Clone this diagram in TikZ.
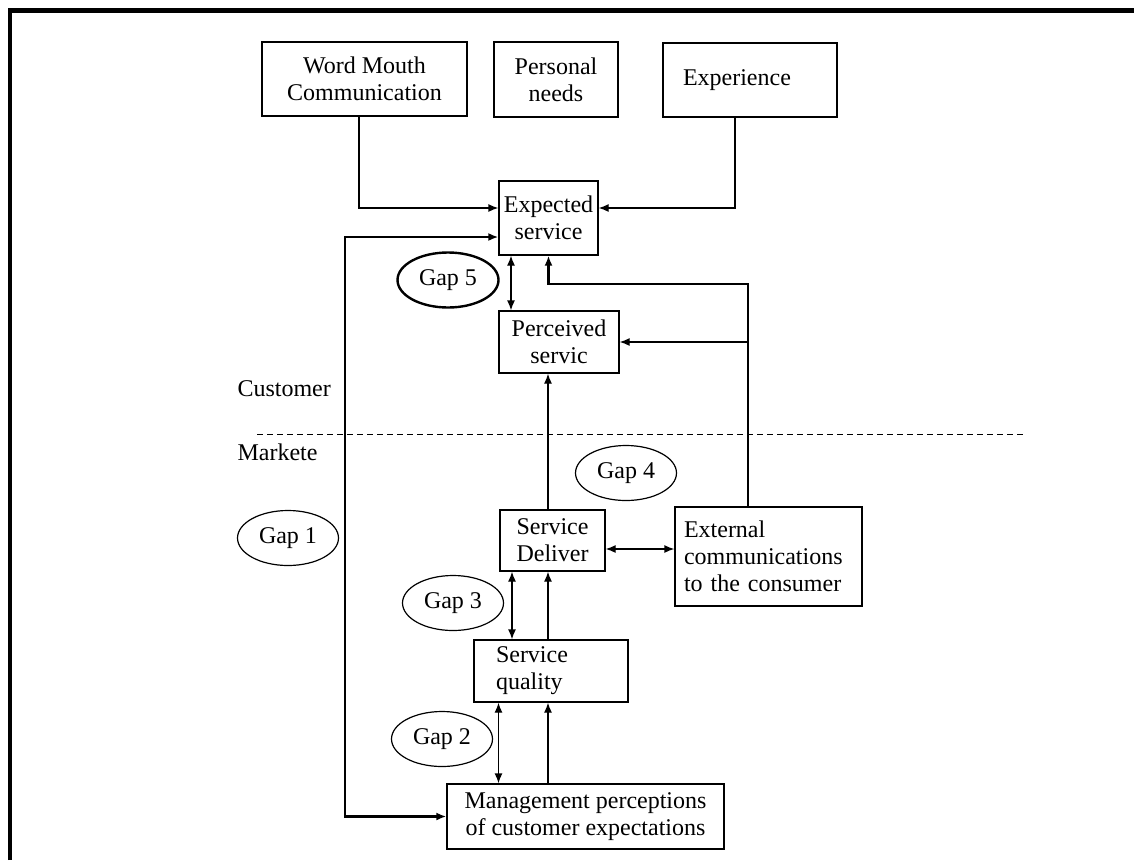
\documentclass[tikz,border=0pt]{standalone}
\usepackage{fontspec}
\setmainfont{Liberation Serif}
\usepackage{tikz}
\usetikzlibrary{arrows.meta,shapes.geometric}

\tikzset{
  every node/.style={font=\fontsize{24}{27}\selectfont},
  box/.style={draw=black,line width=1.3pt,inner sep=0pt,align=center},
  gap/.style={draw=black,line width=1.2pt,ellipse,inner sep=0pt,
    minimum width=101pt,minimum height=55pt},
  tip/.tip={Latex[length=10pt,width=8pt]},
  arr/.style={line width=1.3pt,-tip},
  dbl/.style={line width=1.3pt,tip-tip},
  heavy/.style={line width=2.8pt},
}

\begin{document}
\begin{tikzpicture}[x=1pt,y=-1pt]
\useasboundingbox (0,0) rectangle (1134,860);
% frame:
\path[draw=black,line width=4.5pt] (10,860) -- (10,10.5) -- (1134,10.5);
% boxes:
\node[box,minimum width=205pt,minimum height=74pt] (wom) at (364.5,79) {Word Mouth\\Communication};
\node[box,minimum width=124pt,minimum height=75pt] (pers) at (556,79.5) {Personal\\needs};
\node[box,minimum height=74pt,inner xsep=20pt,text width=134pt,align=left] (expr) at (750,80) {Experience};
\node[box,minimum width=99pt,minimum height=74pt] (expd) at (548.5,218) {Expected\\service};
\node[box,minimum width=120pt,minimum height=62pt] (perc) at (559,342) {Perceived\\servic};
\node[box,minimum width=105pt,minimum height=61pt] (sdel) at (552.5,540.5) {Service\\Deliver};
\node[box,minimum height=99pt,inner xsep=9pt,text width=169pt,align=left] (ext) at (768.5,556.5) {External\\communications\\to the consumer};
\node[box,minimum height=62pt,inner xsep=22pt,text width=110pt,align=left] (squal) at (551,671) {Service\\quality};
\node[box,minimum width=277pt,minimum height=65pt] (mgmt) at (585.5,816.5) {Management perceptions\\of customer expectations};
% gaps:
\node[gap,line width=2.4pt] (gap5) at (448,280) {Gap 5};
\node[gap] (gap4) at (626,473) {Gap 4};
\node[gap] (gap1) at (288,538) {Gap 1};
\node[gap] (gap3) at (453,603) {Gap 3};
\node[gap] (gap2) at (442,739) {Gap 2};
% sides:
\node[anchor=base west] (cust) at (234,396) {Customer};
\node[anchor=base west] (mark) at (234,460) {Markete};
\path[draw=black,line width=1pt,dash pattern=on 6pt off 4pt] (257,434) -- (1026,434);
% connectors:
\coordinate (loop) at (345,530);
\coordinate (c5) at (511,280);
\coordinate (cv) at (548,0);
\coordinate (ec) at (748,284);
\coordinate (c3) at (512,0);
\coordinate (c2) at (498.5,0);
\draw[arr] ([xshift=-5.5pt]wom.south) |- ([yshift=10pt]expd.west);
\draw[arr] ([xshift=-15pt]expr.south) |- ([yshift=10pt]expd.east);
\draw[heavy,tip-tip] ([yshift=-19pt]expd.west) -| (loop) |- (mgmt.west);
\draw[dbl] (c5 |- expd.south) -- (c5 |- perc.north);
\draw[heavy,-tip] (ec |- ext.north) -- (ec) -| (expd.south);
\draw[arr] (ec |- perc.east) -- (perc.east);
\draw[arr] (cv |- sdel.north) -- (cv |- perc.south);
\draw[dbl] ([yshift=-8.5pt]sdel.east) -- ([yshift=7.5pt]ext.west);
\draw[dbl] (c3 |- squal.north) -- (c3 |- sdel.south);
\draw[arr] (cv |- squal.north) -- (cv |- sdel.south);
\draw[dbl] (c2 |- mgmt.north) -- (c2 |- squal.south);
\draw[arr] (cv |- mgmt.north) -- (cv |- squal.south);
\end{tikzpicture}
\end{document}
